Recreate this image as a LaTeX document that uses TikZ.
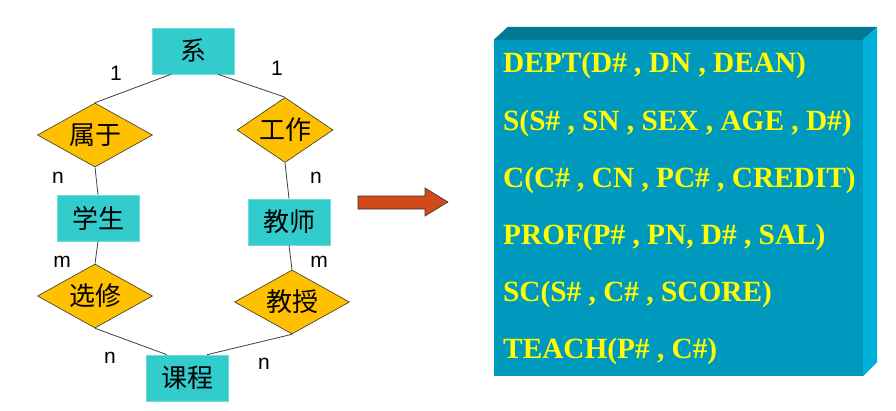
\documentclass[tikz,border=0pt]{standalone}
\usepackage{fontspec}
\setmainfont{Liberation Serif}
\newfontfamily\cjk{Noto Sans CJK SC}
\newfontfamily\labfont{Liberation Sans}
\usetikzlibrary{shapes.geometric,calc}
\definecolor{entfill}{HTML}{33CCCC}
\definecolor{relfill}{HTML}{FFC000}
\definecolor{linegray}{HTML}{404040}
\definecolor{arrowfill}{HTML}{D2491A}
\definecolor{boxfront}{HTML}{0099BE}
\definecolor{boxtop}{HTML}{007A94}
\definecolor{boxside}{HTML}{00B0DC}
\definecolor{txtyellow}{HTML}{FFFF00}
\tikzset{
  entity/.style={rectangle, fill=entfill, draw=entfill!70!white, line width=0.6pt, minimum width=82, minimum height=46, inner sep=0pt, font=\cjk\fontsize{26}{26}\selectfont},
  relation/.style={diamond, fill=relfill, draw=black!80, line width=0.6pt, aspect=2, inner sep=0pt, minimum width=115, minimum height=64, font=\cjk\fontsize{26}{26}\selectfont},
  conn/.style={draw=linegray, line width=0.8pt},
  card/.style={font=\labfont\fontsize{21}{21}\selectfont, inner sep=0pt},
  reltext/.style={font=\bfseries\fontsize{29.3}{29.3}\selectfont, text=txtyellow, inner sep=0pt, anchor=base west}
}
\begin{document}
\begin{tikzpicture}[x=1pt,y=-1pt]
\useasboundingbox[fill=white] (0,0) rectangle (896,410);
% entities
\node[entity] (xi) at (193,51) {系};
\node[entity] (xs) at (98,218) {学生};
\node[entity] (js) at (289,222) {教师};
\node[entity] (kc) at (187,378) {课程};
% relations
\node[relation] (sy) at (95,135) {属于};
\node[relation, aspect=1.5, minimum width=96, minimum height=65] (gz) at (285,130) {工作};
\node[relation] (xx) at (95,296) {选修};
\node[relation] (jsq) at (292,302) {教授};
% connectors
\draw[conn] ([xshift=-22]xi.south) -- (sy.north);
\draw[conn] ([xshift=25]xi.south) -- (gz.north);
\draw[conn] (sy.south) -- (xs.north);
\draw[conn] (gz.south) -- (js.north);
\draw[conn] (xs.south) -- (xx.north);
\draw[conn] (js.south) -- (jsq.north);
\draw[conn] (xx.south) -- ([xshift=-20]kc.north);
\draw[conn] (jsq.south) -- ([xshift=20]kc.north);
% cardinalities
\node[card] (c1) at (116,73) {1};
\node[card] (c2) at (277,68) {1};
\node[card] (c3) at (58,178) {n};
\node[card] (c4) at (316,178) {n};
\node[card] (c5) at (62,262) {m};
\node[card] (c6) at (319,262) {m};
\node[card] (c7) at (110,358) {n};
\node[card] (c8) at (264,364) {n};
% big arrow
\filldraw[fill=arrowfill, draw=black!80, line width=0.6pt]
  (358,196) -- (425,196) -- (425,188) -- (448,202) -- (425,216) -- (425,209) -- (358,209) -- cycle;
% 3D box
\node[rectangle, fill=boxfront, minimum width=369, minimum height=336, inner sep=0pt] (rb) at (678.5,208) {};
\fill[boxtop] (rb.north west) -- ++(14,-13) -- ($(rb.north east)+(14,-13)$) -- (rb.north east) -- cycle;
\fill[boxside] (rb.north east) -- ++(14,-13) -- ($(rb.south east)+(14,-14)$) -- (rb.south east) -- cycle;
\node[reltext] (t1) at (503,72) {DEPT(D\# , DN , DEAN)};
\node[reltext] (t2) at (503,130) {S(S\# , SN , SEX , AGE , D\#)};
\node[reltext] (t3) at (503,187) {C(C\# , CN , PC\# , CREDIT)};
\node[reltext] (t4) at (503,244) {PROF(P\# , PN, D\# , SAL)};
\node[reltext] (t5) at (503,301) {SC(S\# , C\# , SCORE)};
\node[reltext] (t6) at (503,358) {TEACH(P\# , C\#)};
\end{tikzpicture}
\end{document}
